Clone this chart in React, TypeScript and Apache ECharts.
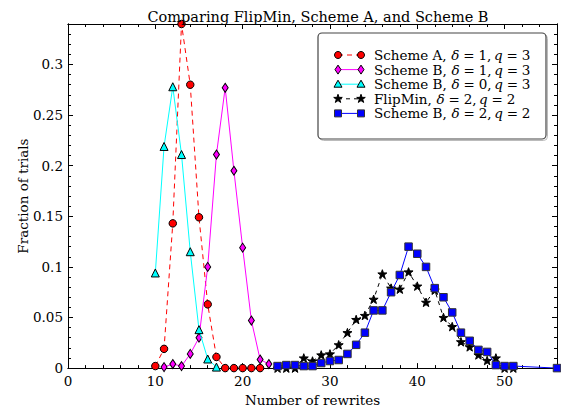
import React, { useEffect, useRef } from "react";
import * as echarts from "echarts";

// ---------- data ----------
const schemeA_d1q3_x = [10, 11, 12, 13, 14, 15, 16, 17, 18, 19, 20, 21, 22];
const schemeA_d1q3_y = [0.002, 0.019, 0.143, 0.34, 0.28, 0.149, 0.063, 0.011, 0, 0, 0, 0, 0];

const schemeB_d1q3_x = [11, 12, 13, 14, 15, 16, 17, 18, 19, 20, 21, 22, 23];
const schemeB_d1q3_y = [0.001, 0.004, 0.002, 0.014, 0.03, 0.1, 0.211, 0.277, 0.195, 0.119, 0.047, 0.0085, 0.004];

const schemeB_d0q3_x = [10, 11, 12, 13, 14, 15, 16, 17];
const schemeB_d0q3_y = [0.094, 0.219, 0.278, 0.211, 0.115, 0.038, 0.009, 0.001];

const flipMin_d2q2_x = [24, 25, 26, 27, 28, 29, 30, 31, 32, 33, 34, 35, 36, 37, 38, 39, 40, 41, 42, 43, 44, 45, 46, 47, 48, 49, 50, 51];
const flipMin_d2q2_y = [0, 0, 0, 0.01, 0.007, 0.013, 0.014, 0.023, 0.035, 0.048, 0.052, 0.068, 0.093, 0.079, 0.078, 0.095, 0.081, 0.065, 0.077, 0.05, 0.041, 0.026, 0.021, 0.013, 0.0075, 0.01, 0, 0];

const schemeB_d2q2_x = [24, 25, 26, 27, 28, 29, 30, 31, 32, 33, 34, 35, 36, 37, 38, 39, 40, 41, 42, 43, 44, 45, 46, 47, 48, 49, 50, 51, 56];
const schemeB_d2q2_y = [0.002, 0.003, 0.003, 0.002, 0.002, 0.005, 0.007, 0.008, 0.014, 0.023, 0.035, 0.057, 0.057, 0.075, 0.092, 0.12, 0.113, 0.1, 0.079, 0.07, 0.055, 0.035, 0.027, 0.018, 0.016, 0.003, 0.002, 0.002, 0];

const legendNames = ["Scheme A,", "Scheme B,", "Scheme B,", "FlipMin,", "Scheme B,"];
const legendDelta = ["1,", "1,", "0,", "2,", "2,"];
const legendQ = ["3", "3", "3", "2", "2"];

const xMin = 0;
const xMax = 56;
const yMin = 0;
const yMax = 0.34;

const titleText = "Comparing FlipMin, Scheme A, and Scheme B";
const xName = "Number of rewrites";
const yName = "Fraction of trials";

// ---------- styles ----------
const FONT_NAME = "DejaVu Serif";
const FONT = "'DejaVu Serif', 'Liberation Serif', serif";
const FS = 13.5;
const STAR_PATH =
  "path://M50,0L61.75,33.8L97.55,34.55L69,56.2L79.4,90.45L50,70L20.6,90.45L31,56.2L2.45,34.55L38.25,33.8Z";

type Sty = {
  color: string;
  dash: number[] | "solid";
  symbol: string;
  size: number | number[];
  edge: string;
  shape: "circle" | "diamond" | "triangle" | "star" | "square";
};

const styles: Sty[] = [
  { color: "#ff0000", dash: [5, 4], symbol: "circle", size: 7.5, edge: "#000", shape: "circle" },
  { color: "#ff00ff", dash: "solid", symbol: "diamond", size: [6, 9], edge: "#000", shape: "diamond" },
  { color: "#00ffff", dash: "solid", symbol: "triangle", size: 8, edge: "#000", shape: "triangle" },
  { color: "#000000", dash: [4, 4], symbol: STAR_PATH, size: 9, edge: "#000", shape: "star" },
  { color: "#0000ff", dash: "solid", symbol: "rect", size: 7.5, edge: "#333", shape: "square" },
];

const seriesX = [schemeA_d1q3_x, schemeB_d1q3_x, schemeB_d0q3_x, flipMin_d2q2_x, schemeB_d2q2_x];
const seriesY = [schemeA_d1q3_y, schemeB_d1q3_y, schemeB_d0q3_y, flipMin_d2q2_y, schemeB_d2q2_y];

function markerGraphic(s: Sty, cx: number, cy: number): any {
  const common = { style: { fill: s.color, stroke: s.edge, lineWidth: 1 }, z: 110 };
  if (s.shape === "circle") return { type: "circle", shape: { cx, cy, r: 3.5 }, ...common };
  let pts: number[][] = [];
  if (s.shape === "diamond") pts = [[cx, cy - 4.5], [cx + 3, cy], [cx, cy + 4.5], [cx - 3, cy]];
  if (s.shape === "triangle") pts = [[cx, cy - 4], [cx + 4, cy + 3], [cx - 4, cy + 3]];
  if (s.shape === "square") pts = [[cx - 3.5, cy - 3.5], [cx + 3.5, cy - 3.5], [cx + 3.5, cy + 3.5], [cx - 3.5, cy + 3.5]];
  if (s.shape === "star") {
    const R = 4.5, r = 1.8;
    for (let k = 0; k < 10; k++) {
      const a = -Math.PI / 2 + (k * Math.PI) / 5;
      const rr = k % 2 === 0 ? R : r;
      pts.push([cx + rr * Math.cos(a), cy + rr * Math.sin(a)]);
    }
  }
  return { type: "polygon", shape: { points: pts }, ...common };
}

function measure(text: string, italic: boolean): number {
  const c = document.createElement("canvas").getContext("2d");
  if (!c) return text.length * FS * 0.55;
  c.font = `${italic ? "italic " : ""}${FS}px '${FONT_NAME}'`;
  return c.measureText(text).width;
}

export default function App() {
  const ref = useRef<HTMLDivElement>(null);
  useEffect(() => {
    if (!ref.current) return;
    const chart = echarts.init(ref.current, undefined, { renderer: "svg" });

    const axisLineStyle = { color: "#000", width: 1 };
    const baseX = (pos: "bottom" | "top", interval: number, len: number, labels: boolean, name?: string): any => ({
      type: "value",
      position: pos,
      min: xMin,
      max: xMax,
      interval,
      axisLine: { show: true, onZero: false, lineStyle: axisLineStyle },
      axisTick: { show: true, inside: true, length: len, lineStyle: { color: "#000", width: 1 } },
      axisLabel: labels
        ? { show: true, showMaxLabel: false, margin: 6, color: "#000", fontFamily: FONT, fontSize: FS }
        : { show: false },
      splitLine: { show: false },
      name: name,
      nameLocation: "middle",
      nameGap: 21,
      nameTextStyle: { color: "#000", fontFamily: FONT, fontSize: FS },
    });
    const baseY = (pos: "left" | "right", interval: number, len: number, labels: boolean, name?: string): any => ({
      type: "value",
      position: pos,
      min: yMin,
      max: yMax,
      interval,
      axisLine: { show: true, onZero: false, lineStyle: axisLineStyle },
      axisTick: { show: true, inside: true, length: len, lineStyle: { color: "#000", width: 1 } },
      axisLabel: labels
        ? {
            show: true,
            showMaxLabel: false,
            margin: 5,
            color: "#000",
            fontFamily: FONT,
            fontSize: FS,
            formatter: (v: number) => String(Math.round(v * 100) / 100),
          }
        : { show: false },
      splitLine: { show: false },
      name: name,
      nameLocation: "middle",
      nameGap: 38,
      nameMoveOverlap: false,
      nameRotate: 90,
      nameTextStyle: { color: "#000", fontFamily: FONT, fontSize: FS },
    });

    const series: any[] = seriesX.map((xs, i) => {
      const s = styles[i];
      return {
        type: "line",
        xAxisIndex: 0,
        yAxisIndex: 0,
        data: xs.map((x, j) => [x, seriesY[i][j]]),
        symbol: s.symbol,
        symbolSize: s.size,
        symbolKeepAspect: true,
        showAllSymbol: true,
        lineStyle: { color: s.color, width: 1, type: s.dash },
        itemStyle: { color: s.color, borderColor: s.edge, borderWidth: 1 },
        emphasis: { disabled: true },
        z: 2 + i,
        clip: true,
      };
    });

    // legend graphic
    const lgLeft = 318, lgTop = 33, lgW = 228, lgH = 106;
    const legendChildren: any[] = [
      { type: "rect", shape: { x: lgLeft + 1.5, y: lgTop + 1.5, width: lgW, height: lgH, r: 4 }, style: { fill: "none", stroke: "#bbb", lineWidth: 1 }, z: 99 },
      { type: "rect", shape: { x: lgLeft, y: lgTop, width: lgW, height: lgH, r: 4 }, style: { fill: "#fff", stroke: "#444", lineWidth: 1.2 }, z: 100 },
    ];
    const sp = measure(" ", false);
    styles.forEach((s, i) => {
      const cy = 55 + i * 14.6;
      const x1 = 338, x2 = 361;
      legendChildren.push({
        type: "line",
        shape: { x1, y1: cy, x2, y2: cy },
        style: { stroke: s.color, lineWidth: 1, lineDash: s.dash === "solid" ? null : s.dash },
        z: 105,
      });
      legendChildren.push(markerGraphic(s, x1, cy));
      legendChildren.push(markerGraphic(s, x2, cy));
      const tokens: [string, boolean, number][] = [
        [legendNames[i], false, sp * 1.1],
        ["δ", true, sp * 0.9],
        ["=", false, sp * 0.9],
        [legendDelta[i], false, sp * 0.6],
        ["q", true, sp * 0.9],
        ["=", false, sp * 0.9],
        [legendQ[i], false, 0],
      ];
      let x = 374;
      tokens.forEach(([t, it, gap]) => {
        legendChildren.push({
          type: "text",
          x,
          y: cy,
          z: 110,
          style: {
            text: t,
            verticalAlign: "middle",
            align: "left",
            fill: "#000",
            fontFamily: FONT,
            fontSize: FS,
            fontStyle: it ? "italic" : "normal",
          },
        });
        x += measure(t, it) + gap;
      });
    });

    chart.setOption({
      animation: false,
      backgroundColor: "#fff",
      title: {
        text: titleText,
        left: 313,
        top: 4,
        textAlign: "center",
        textStyle: { color: "#000", fontFamily: FONT, fontSize: 14.5, fontWeight: "normal" },
      },
      grid: { left: 68, top: 24, right: 4, bottom: 40, containLabel: false },
      xAxis: [
        baseX("bottom", 10, 5, true, xName),
        baseX("bottom", 2, 3, false),
        baseX("top", 10, 5, false),
        baseX("top", 2, 3, false),
      ],
      yAxis: [
        baseY("left", 0.05, 5, true, yName),
        baseY("left", 0.01, 3, false),
        baseY("right", 0.05, 5, false),
        baseY("right", 0.01, 3, false),
      ],
      series,
      graphic: [{ type: "group", children: legendChildren }],
    });

    return () => chart.dispose();
  }, []);

  return (
    <div
      ref={ref}
      style={{ position: "fixed", left: 0, top: 0, width: 561, height: 412, background: "#fff" }}
    />
  );
}
